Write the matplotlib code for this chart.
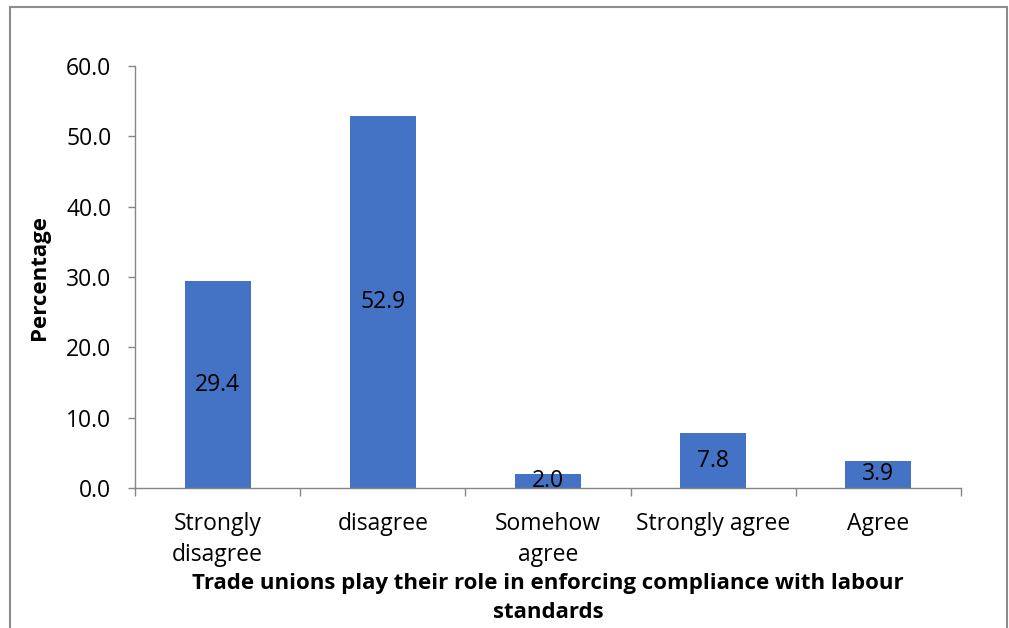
import matplotlib
matplotlib.use("Agg")
import matplotlib.pyplot as plt
from matplotlib.patches import Rectangle

categories = ["Strongly\ndisagree", "disagree", "Somehow\nagree", "Strongly agree", "Agree"]
values = [29.4, 52.9, 2.0, 7.8, 3.9]
yticks = [0, 10, 20, 30, 40, 50, 60]

plt.rcParams['font.family'] = ['Open Sans', 'DejaVu Sans']

W, H = 1009, 628
fig = plt.figure(figsize=(W/100, H/100), dpi=100)
ax = fig.add_axes([135/W, 1-488/H, (961-135)/W, (488-66)/H])

x = list(range(len(values)))
bars = ax.bar(x, values, width=0.4, color="#4472C4", zorder=2)
for xi, v in zip(x, values):
    ax.text(xi, v/2, f"{v:.1f}", ha="center", va="center", fontsize=16.5, color="black", zorder=3)

ax.set_xlim(-0.5, len(values)-0.5)
ax.set_ylim(0, 60)
ax.set_yticks(yticks)
ax.set_yticklabels([f"{t:.1f}" for t in yticks], fontsize=16.5)
ax.set_xticks([i - 0.5 for i in range(len(values)+1)], minor=False)
ax.set_xticklabels([])
ax.set_xticks(x, minor=True)
ax.set_xticklabels(categories, minor=True, fontsize=16.5, linespacing=1.42)
ax.tick_params(axis="x", which="minor", length=0, pad=17)
ax.tick_params(axis="x", which="major", length=6, color="#868686", width=1)
ax.tick_params(axis="y", length=5, color="#868686", width=1, pad=12)
for s in ["top", "right"]:
    ax.spines[s].set_visible(False)
for s in ["left", "bottom"]:
    ax.spines[s].set_color("#868686")
    ax.spines[s].set_linewidth(1)

fig.text(40/W, 1-277/H, "Percentage", rotation=90, ha="center", va="center", fontsize=16, fontweight="bold")
fig.text(548/W, 1-598/H, "Trade unions play their role in enforcing compliance with labour\nstandards",
         ha="center", va="center", fontsize=16, fontweight="bold", linespacing=1.5)

fig.patches.append(Rectangle((10/W, -0.1), (1007-10)/W, 1.1 - 7/H, transform=fig.transFigure,
                             fill=False, edgecolor="#8c8c8c", linewidth=1.5))

fig.savefig("out.png", dpi=100)
